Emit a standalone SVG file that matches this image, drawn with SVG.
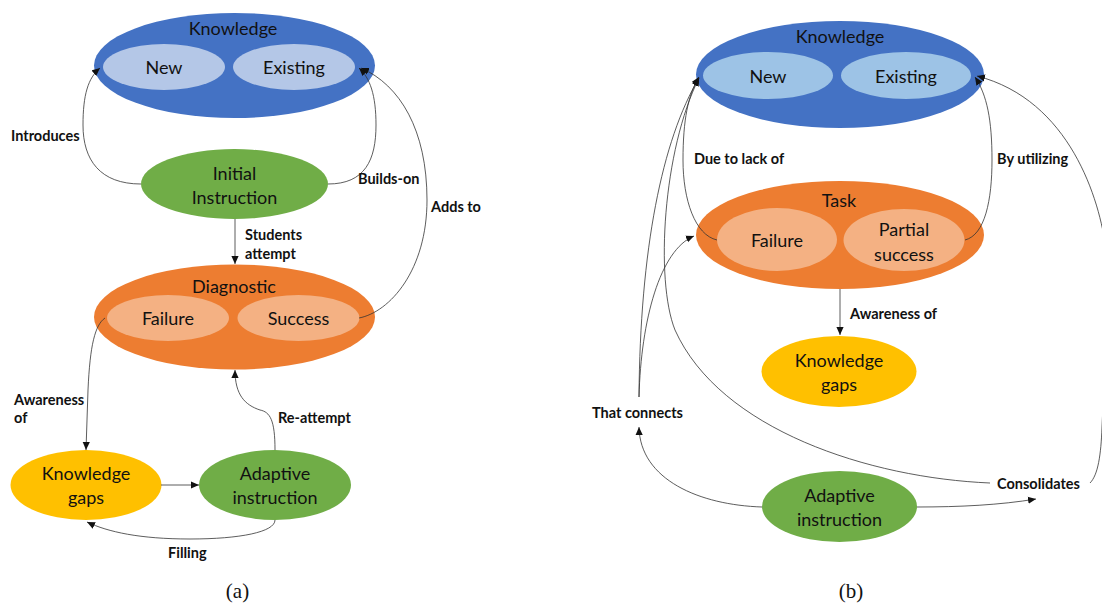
<svg xmlns="http://www.w3.org/2000/svg" width="1102" height="603" viewBox="0 0 1102 603">
<defs>
<marker id="arr" viewBox="0 0 10 10" refX="10" refY="5" markerWidth="8" markerHeight="8" markerUnits="userSpaceOnUse" orient="auto"><path d="M0,0.5 L10,5 L0,9.5 z" fill="#111"/></marker>
<style>
.n{font-family:Lato,"Open Sans",sans-serif;font-size:18px;fill:#111;text-anchor:middle;dominant-baseline:central}
.l{font-family:Lato,"Open Sans",sans-serif;font-size:14.5px;font-weight:bold;fill:#111;dominant-baseline:central}
.c{fill:none;stroke:#333;stroke-width:0.8}
.cap{font-family:"Liberation Serif",serif;font-size:21px;fill:#111;text-anchor:middle;dominant-baseline:central}
.blue{fill:#4472C4}.lb{fill:#B4C7E7}.lb2{fill:#9DC3E6}.or{fill:#ED7D31}.lo{fill:#F4B183}.gr{fill:#70AD47}.ye{fill:#FFC000}
</style>
</defs>
<rect width="1102" height="603" fill="#fff"/>
<!-- Panel a -->
<g id="a-knowledge">
<ellipse class="blue" cx="234.5" cy="65.5" rx="140.5" ry="52.5"/>
<text class="n" x="233" y="28">Knowledge</text>
<ellipse class="lb" cx="164" cy="67" rx="61" ry="23"/>
<text class="n" x="164" y="67">New</text>
<ellipse class="lb" cx="294" cy="67" rx="61" ry="23"/>
<text class="n" x="294" y="67">Existing</text>
</g>
<g id="a-initial">
<ellipse class="gr" cx="234.5" cy="184" rx="93.5" ry="35"/>
<text class="n" x="234.5" y="173">Initial</text>
<text class="n" x="234.5" y="197">Instruction</text>
</g>
<g id="a-diagnostic">
<ellipse class="or" cx="234.5" cy="317" rx="140.5" ry="52.5"/>
<text class="n" x="234" y="286">Diagnostic</text>
<ellipse class="lo" cx="168" cy="318" rx="61" ry="23"/>
<text class="n" x="168" y="318">Failure</text>
<ellipse class="lo" cx="298.5" cy="318" rx="61" ry="23"/>
<text class="n" x="298.5" y="318">Success</text>
</g>
<g id="a-gaps">
<ellipse class="ye" cx="86" cy="485" rx="75.5" ry="35"/>
<text class="n" x="86" y="473">Knowledge</text>
<text class="n" x="86" y="497">gaps</text>
</g>
<g id="a-adaptive">
<ellipse class="gr" cx="275" cy="485" rx="76" ry="35"/>
<text class="n" x="275" y="473">Adaptive</text>
<text class="n" x="275" y="497">instruction</text>
</g>
<g id="a-connectors">
<path class="c" marker-end="url(#arr)" d="M141,184 C100,184 83,160 83,125 C83,95 88,78 100,68"/>
<path class="c" marker-end="url(#arr)" d="M328,184 C365,184 376,160 376,125 C376,95 370,78 359,68"/>
<path class="c" marker-end="url(#arr)" d="M359,318 C390,312 427,270 427,200 C427,130 400,85 361,68"/>
<path class="c" marker-end="url(#arr)" d="M235,219 L235,264"/>
<path class="c" marker-end="url(#arr)" d="M105,318 C95,325 90,345 88,390 L86,450"/>
<path class="c" marker-end="url(#arr)" d="M161,485 L199,485"/>
<path class="c" marker-end="url(#arr)" d="M275,450 C275,420 270,412 260,410 C245,405 235,395 235,370"/>
<path class="c" marker-end="url(#arr)" d="M275,520 C275,532 240,539 190,539 C140,539 108,532 87,522"/>
<text class="l" x="11" y="135">Introduces</text>
<text class="l" x="358" y="178">Builds-on</text>
<text class="l" x="431" y="206">Adds to</text>
<text class="l" x="245" y="234">Students</text>
<text class="l" x="245" y="253">attempt</text>
<text class="l" x="14" y="399">Awareness</text>
<text class="l" x="14" y="417">of</text>
<text class="l" x="278" y="417">Re-attempt</text>
<text class="l" x="168" y="552">Filling</text>
</g>
<text class="cap" x="237.5" y="591">(a)</text>
<!-- Panel b -->
<g id="b-knowledge">
<ellipse class="blue" cx="840" cy="74.5" rx="144" ry="53.5"/>
<text class="n" x="840" y="36">Knowledge</text>
<ellipse class="lb2" cx="768" cy="75.5" rx="65" ry="23.5"/>
<text class="n" x="768" y="76">New</text>
<ellipse class="lb2" cx="906" cy="75.5" rx="65" ry="23.5"/>
<text class="n" x="906" y="76">Existing</text>
</g>
<g id="b-task">
<ellipse class="or" cx="840" cy="235" rx="144" ry="54"/>
<text class="n" x="839" y="200">Task</text>
<ellipse class="lo" cx="777" cy="239.5" rx="60" ry="31.5"/>
<text class="n" x="777" y="240">Failure</text>
<ellipse class="lo" cx="904" cy="240" rx="60.5" ry="31"/>
<text class="n" x="904" y="229">Partial</text>
<text class="n" x="904" y="254">success</text>
</g>
<g id="b-gaps">
<ellipse class="ye" cx="839" cy="371.5" rx="77.5" ry="35.5"/>
<text class="n" x="839" y="360">Knowledge</text>
<text class="n" x="839" y="384">gaps</text>
</g>
<g id="b-adaptive">
<ellipse class="gr" cx="839.5" cy="506.5" rx="77.5" ry="35.5"/>
<text class="n" x="839.5" y="495">Adaptive</text>
<text class="n" x="839.5" y="519">instruction</text>
</g>
<g id="b-connectors">
<path class="c" marker-end="url(#arr)" d="M840,289 L840,335"/>
<path class="c" marker-end="url(#arr)" d="M717,240 C695,235 683,200 683,160 C683,120 688,95 699,77"/>
<path class="c" marker-end="url(#arr)" d="M965,240 C985,235 992,200 992,160 C992,120 987,95 975,77"/>
<path class="c" marker-end="url(#arr)" d="M762,507 C700,505 640,480 639,427"/>
<path class="c" marker-end="url(#arr)" d="M639,397 C640,250 662,140 699,78"/>
<path class="c" marker-end="url(#arr)" d="M639,397 C641,320 660,250 694,236"/>
<path class="c" marker-end="url(#arr)" d="M990,483 C870,478 720,430 675,330 C655,280 663,150 699,78"/>
<path class="c" marker-end="url(#arr)" d="M917,507 C960,507 1000,505 1036,499"/>
<path class="c" marker-end="url(#arr)" d="M1090,483 C1098,475 1101,455 1102,427 C1104,380 1110,300 1106,250 C1100,200 1070,100 977,76"/>
<text class="l" x="694" y="158">Due to lack of</text>
<text class="l" x="997" y="158">By utilizing</text>
<text class="l" x="850" y="313">Awareness of</text>
<text class="l" x="592" y="412">That connects</text>
<text class="l" x="997" y="483">Consolidates</text>
</g>
<text class="cap" x="851" y="591">(b)</text>
</svg>
